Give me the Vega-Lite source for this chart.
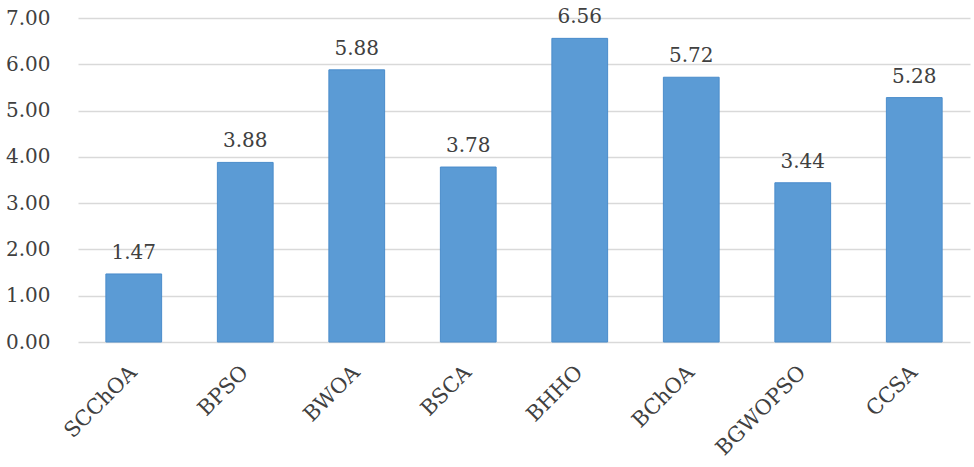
{
  "$schema": "https://vega.github.io/schema/vega-lite/v6.json",
  "width": 892,
  "height": 324,
  "autosize": {"type": "none"},
  "padding": {"left": 78, "top": 18, "right": 4, "bottom": 125},
  "background": "white",
  "config": {
    "view": {"stroke": null},
    "font": "DejaVu Serif"
  },
  "data": {
    "values": [
      {"algorithm": "SCChOA", "value": 1.47},
      {"algorithm": "BPSO", "value": 3.88},
      {"algorithm": "BWOA", "value": 5.88},
      {"algorithm": "BSCA", "value": 3.78},
      {"algorithm": "BHHO", "value": 6.56},
      {"algorithm": "BChOA", "value": 5.72},
      {"algorithm": "BGWOPSO", "value": 3.44},
      {"algorithm": "CCSA", "value": 5.28}
    ]
  },
  "encoding": {
    "x": {
      "field": "algorithm",
      "type": "nominal",
      "sort": null,
      "scale": {"paddingInner": 0.5, "paddingOuter": 0.25},
      "axis": {
        "title": null,
        "labelAngle": -45,
        "labelAlign": "right",
        "labelBaseline": "middle",
        "labelFont": "DejaVu Serif",
        "labelFontSize": 21,
        "labelColor": "#404040",
        "labelPadding": 27,
        "ticks": false,
        "domain": false,
        "grid": false
      }
    },
    "y": {
      "field": "value",
      "type": "quantitative",
      "scale": {"domain": [0, 7], "nice": false},
      "axis": {
        "title": null,
        "values": [0, 1, 2, 3, 4, 5, 6, 7],
        "format": ".2f",
        "labelFont": "DejaVu Serif",
        "labelFontSize": 20,
        "labelColor": "#404040",
        "labelPadding": 28,
        "ticks": false,
        "domain": false,
        "grid": true,
        "gridColor": "#d9d9d9",
        "gridWidth": 1.5
      }
    }
  },
  "layer": [
    {
      "mark": {"type": "bar", "color": "#5B9BD5", "stroke": "#4A8CCB", "strokeWidth": 1}
    },
    {
      "mark": {"type": "text", "baseline": "alphabetic", "dy": -15, "font": "DejaVu Serif", "fontSize": 20, "color": "#404040"},
      "encoding": {
        "text": {"field": "value", "type": "quantitative", "format": ".2f"}
      }
    }
  ]
}
